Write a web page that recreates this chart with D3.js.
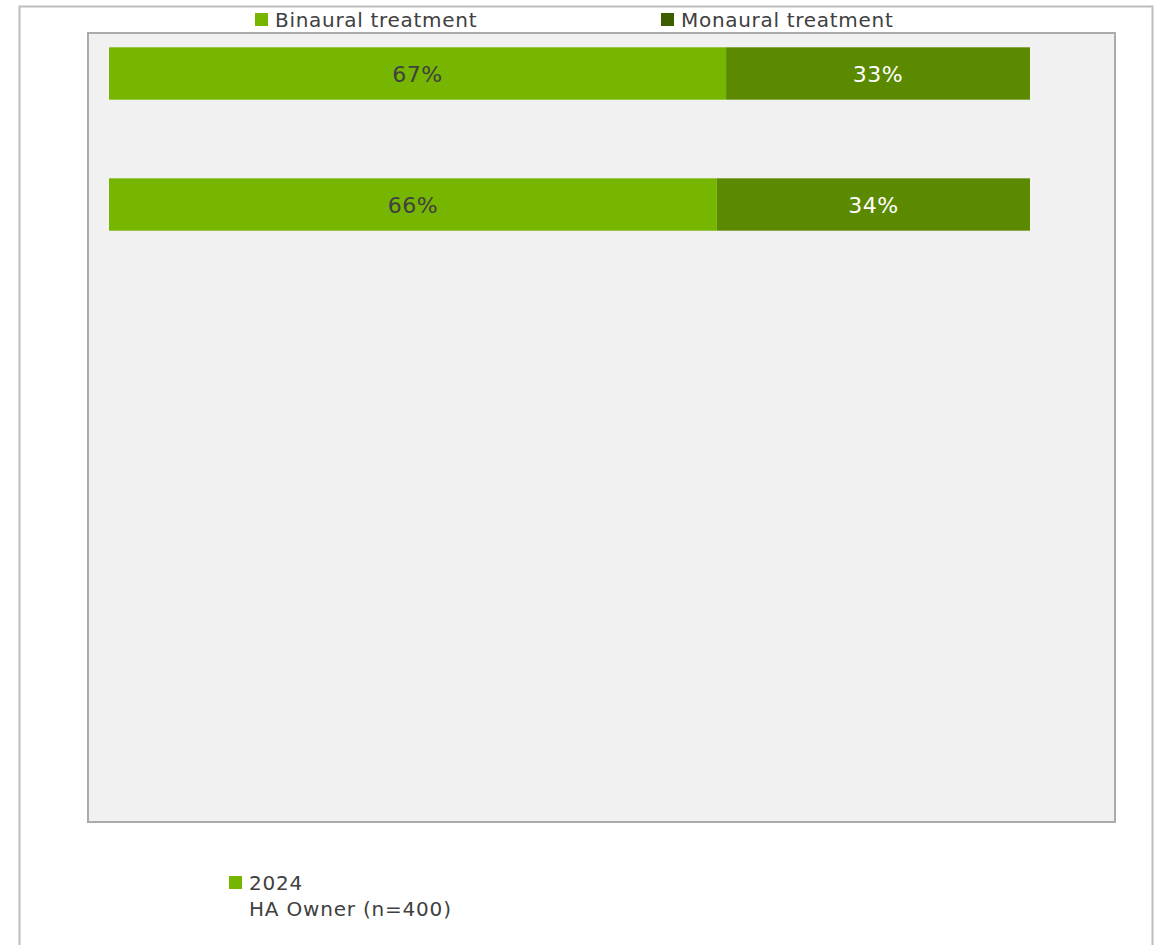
<!DOCTYPE html>
<html>
<head>
<meta charset="utf-8">
<script src="https://cdn.jsdelivr.net/npm/d3@7"></script>
<style>
  html, body { margin: 0; padding: 0; background: #ffffff; }
  svg { display: block; font-family: Verdana, "DejaVu Sans", sans-serif; }
</style>
</head>
<body>
<script>
// Share of hearing-aid owners by treatment type
const rows = ["row1", "row2"];
const seriesNames = ["Binaural treatment", "Monaural treatment"];
const binaural = [67, 66];
const monaural = [33, 34];
const groupLabel = ["2024", "HA Owner (n=400)"];

const W = 1158, H = 945;
const colors = { bin: "#76b500", mon: "#5b8a00", monSwatch: "#3e5c00", text: "#404040" };

const svg = d3.select("body").append("svg").attr("width", W).attr("height", H);

// outer frame
svg.append("rect").attr("x", 19.5).attr("y", 6.5).attr("width", 1133).attr("height", 960)
  .attr("fill", "#fff").attr("stroke", "#bdbdbd").attr("stroke-width", 2);

// plot area
const plot = { x0: 88, y0: 33, x1: 1115, y1: 822 };
svg.append("rect").attr("x", plot.x0).attr("y", plot.y0)
  .attr("width", plot.x1 - plot.x0).attr("height", plot.y1 - plot.y0)
  .attr("fill", "#f1f1f1").attr("stroke", "#ababab").attr("stroke-width", 2);

const x = d3.scaleLinear().domain([0, 100]).range([109, 1030]);
const y = d3.scaleBand().domain(rows).range([8, 270]).paddingInner(0.6).paddingOuter(0.3);

const stacked = rows.map((r, i) => ({ row: r, bin: binaural[i], mon: monaural[i] }));

const g = svg.append("g");
stacked.forEach(d => {
  const yy = y(d.row), h = y.bandwidth();
  g.append("rect").attr("x", x(0)).attr("y", yy).attr("width", x(d.bin) - x(0)).attr("height", h)
    .attr("fill", colors.bin);
  g.append("rect").attr("x", x(d.bin)).attr("y", yy).attr("width", x(d.bin + d.mon) - x(d.bin)).attr("height", h)
    .attr("fill", colors.mon);
  g.append("text").attr("x", (x(0) + x(d.bin)) / 2).attr("y", yy + h / 2 + 1)
    .attr("text-anchor", "middle").attr("dominant-baseline", "central")
    .attr("font-size", 22).attr("letter-spacing", 0.5).attr("fill", colors.text).text(d.bin + "%");
  g.append("text").attr("x", (x(d.bin) + x(d.bin + d.mon)) / 2).attr("y", yy + h / 2 + 1)
    .attr("text-anchor", "middle").attr("dominant-baseline", "central")
    .attr("font-size", 22).attr("letter-spacing", 0.5).attr("fill", "#ffffff").text(d.mon + "%");
});

// series legend
const legendItems = [
  { name: seriesNames[0], color: colors.bin, x: 255 },
  { name: seriesNames[1], color: colors.monSwatch, x: 661 }
];
legendItems.forEach(it => {
  svg.append("rect").attr("x", it.x).attr("y", 13).attr("width", 13).attr("height", 13).attr("fill", it.color);
  svg.append("text").attr("x", it.x + 20).attr("y", 27).attr("font-size", 20)
    .attr("letter-spacing", 0.7).attr("fill", colors.text).text(it.name);
});

// group legend
svg.append("rect").attr("x", 229).attr("y", 876).attr("width", 13).attr("height", 13).attr("fill", colors.bin);
groupLabel.forEach((t, i) => {
  svg.append("text").attr("x", 249).attr("y", 890 + i * 26).attr("font-size", 20)
    .attr("letter-spacing", 0.8).attr("fill", colors.text).text(t);
});
</script>
</body>
</html>
